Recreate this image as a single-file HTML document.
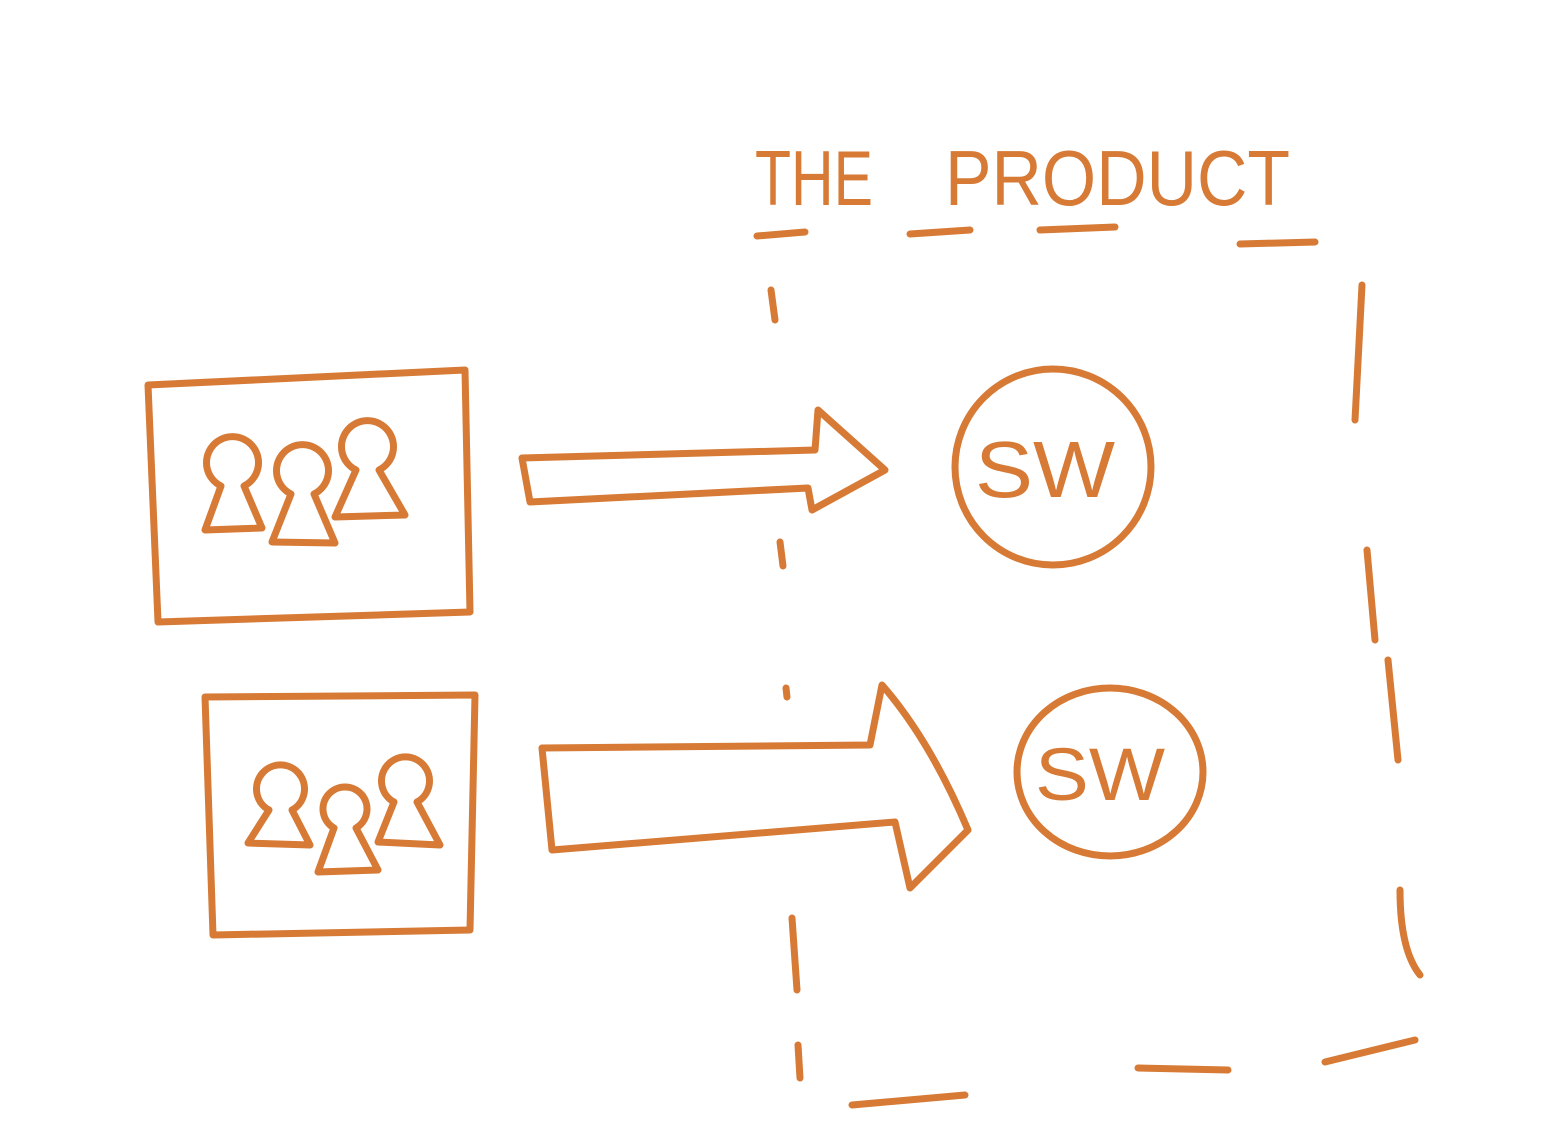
<!DOCTYPE html>
<html><head><style>html,body{margin:0;padding:0;background:#fff;}svg{display:block}</style></head>
<body>
<svg width="1548" height="1142" viewBox="0 0 1548 1142" xmlns="http://www.w3.org/2000/svg">
<g fill="none" stroke="#d67a35" stroke-width="7" stroke-linecap="round" stroke-linejoin="round">
<path d="M757 236 L805 232"/><path d="M910 234 L970 230"/><path d="M1040 230 L1115 227"/><path d="M1240 244 L1315 242"/>
<path d="M771 290 L775 320"/><path d="M780 542 L783 566"/><path d="M786 688 L787 697"/>
<path d="M792 918 L797 990"/><path d="M798 1045 L800 1078"/>
<path d="M1362 285 L1355 420"/><path d="M1367 550 L1375 640"/><path d="M1388 660 L1398 760"/><path d="M1400 890 Q1400 950 1420 975"/>
<path d="M852 1105 L965 1095"/><path d="M1138 1068 L1228 1070"/><path d="M1325 1062 L1415 1040"/>
<path d="M148 385 L465 370 L470 612 L158 622 Z"/>
<path d="M205 697 L475 695 L470 930 L213 935 Z"/>
<path d="M522 458 L815 450 L818 410 L885 470 L812 510 L808 488 L530 502 Z"/>
<path d="M542 748 L870 745 L882 685 Q930 740 968 830 L910 888 L895 822 L552 850 Z"/>
<circle cx="1053" cy="467" r="98"/>
<ellipse cx="1110" cy="772" rx="93" ry="84"/>
<path d="M221 486 A26 26 0 1 1 244 486 L262 528 L205 530 Z"/>
<path d="M291 494 A26 26 0 1 1 314 494 L335 543 L272 542 Z"/>
<path d="M356 470 A26 26 0 1 1 379 470 L405 515 L335 517 Z"/>
<path d="M269 810 A24 24 0 1 1 292 810 L310 845 L248 843 Z"/>
<path d="M334 828 A22 22 0 1 1 356 828 L378 870 L318 872 Z"/>
<path d="M394 802 A24 24 0 1 1 417 802 L440 845 L378 842 Z"/>
</g>
<g fill="#d67a35" font-family="Liberation Sans, sans-serif">
<text x="755" y="205" font-size="78" textLength="118" lengthAdjust="spacingAndGlyphs">THE</text>
<text x="945" y="205" font-size="78" textLength="345" lengthAdjust="spacingAndGlyphs">PRODUCT</text>
<text x="975" y="497" font-size="80" textLength="140" lengthAdjust="spacingAndGlyphs">SW</text>
<text x="1035" y="800" font-size="74" textLength="130" lengthAdjust="spacingAndGlyphs">SW</text>
</g>
</svg>
</body></html>
